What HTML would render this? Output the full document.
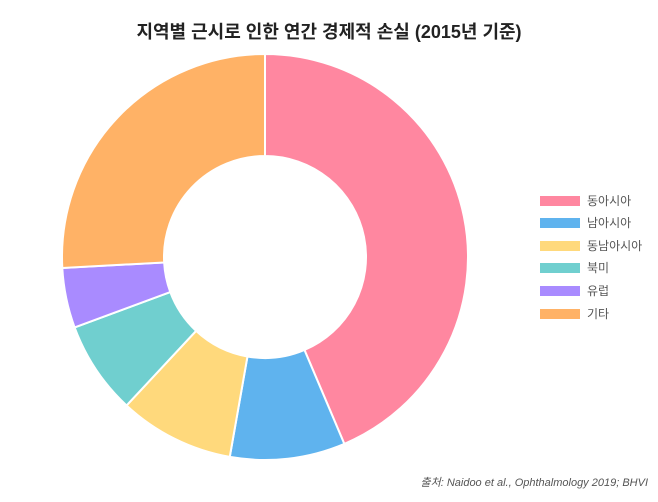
<!DOCTYPE html>
<html><head><meta charset="utf-8"><style>
body{margin:0;background:#fff;width:658px;height:497px;overflow:hidden;font-family:"Liberation Sans","Noto Sans CJK KR",sans-serif}
</style></head><body>
<svg id="s" width="658" height="497" xmlns="http://www.w3.org/2000/svg">
<text x="329" y="38" text-anchor="middle" font-size="18" font-weight="bold" fill="#222" font-family="Liberation Sans, Noto Sans CJK KR, sans-serif">지역별 근시로 인한 연간 경제적 손실 (2015년 기준)</text>
<g id="p"></g>
<g font-size="12" fill="#555" font-family="Liberation Sans, Noto Sans CJK KR, sans-serif">
<rect x="540" y="196" width="40" height="10" fill="#ff87a0"/><text x="587" y="205">동아시아</text>
<rect x="540" y="218" width="40" height="10" fill="#5fb3ee"/><text x="587" y="227">남아시아</text>
<rect x="540" y="241" width="40" height="10" fill="#ffd97c"/><text x="587" y="250">동남아시아</text>
<rect x="540" y="263" width="40" height="10" fill="#70cfcf"/><text x="587" y="272">북미</text>
<rect x="540" y="286" width="40" height="10" fill="#a98bff"/><text x="587" y="295">유럽</text>
<rect x="540" y="309" width="40" height="10" fill="#ffb266"/><text x="587" y="318">기타</text>
</g>
<text x="648" y="486" text-anchor="end" font-size="11" font-style="italic" fill="#555" font-family="Liberation Sans, Noto Sans CJK KR, sans-serif">출처: Naidoo et al., Ophthalmology 2019; BHVI</text>
</svg>
<script>
var cx=265,cy=257,R=203,r=101;
var segs=[[0,157,"#ff87a0"],[157,190,"#5fb3ee"],[190,223,"#ffd97c"],[223,249.7,"#70cfcf"],[249.7,266.9,"#a98bff"],[266.9,360,"#ffb266"]];
function pt(a,rad){a=a*Math.PI/180;return [cx+rad*Math.sin(a),cy-rad*Math.cos(a)];}
var h="";
segs.forEach(function(s){var a=s[0],b=s[1],l=(b-a)>180?1:0;
var p1=pt(a,R),p2=pt(b,R),p3=pt(b,r),p4=pt(a,r);
h+='<path d="M'+p1+' A'+R+' '+R+' 0 '+l+' 1 '+p2+' L'+p3+' A'+r+' '+r+' 0 '+l+' 0 '+p4+' Z" fill="'+s[2]+'" stroke="#fff" stroke-width="2"/>';});
document.getElementById("p").innerHTML=h;
</script>
</body></html>
